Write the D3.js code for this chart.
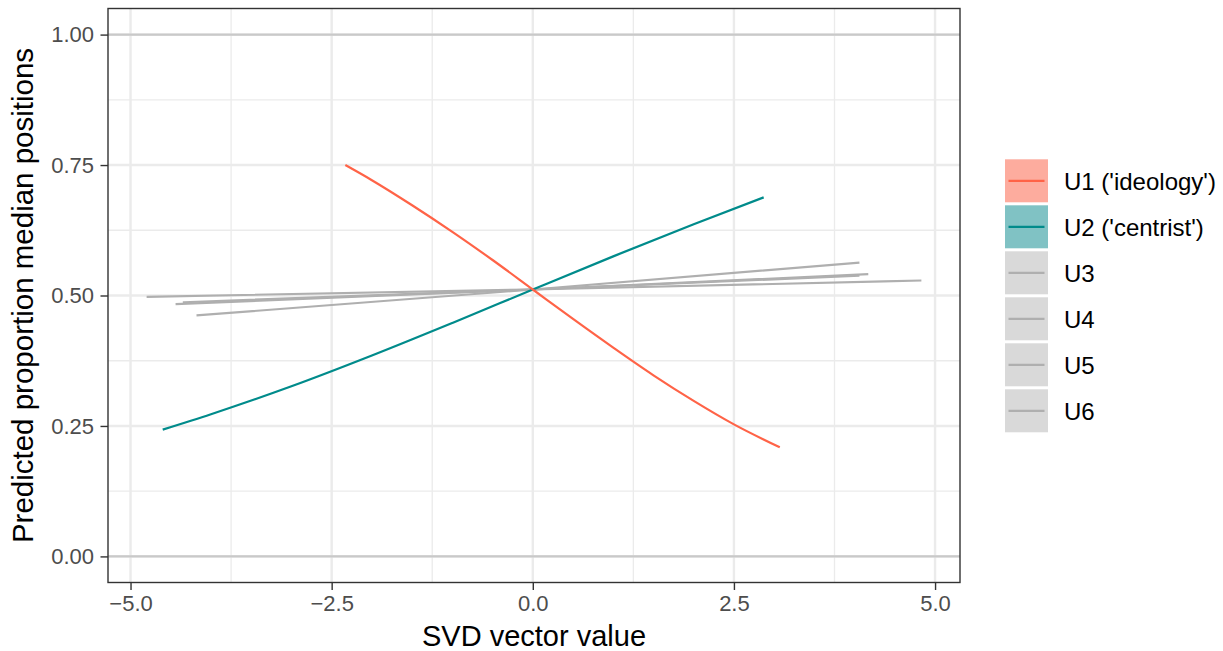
<!DOCTYPE html>
<html>
<head>
<meta charset="utf-8">
<script src="https://cdn.jsdelivr.net/npm/d3@7"></script>
<style>
  html, body { margin: 0; padding: 0; background: #ffffff; }
  svg { display: block; font-family: "Liberation Sans", Arial, Helvetica, sans-serif; }
</style>
</head>
<body>
<svg id="chart" width="1223" height="651"></svg>
<script>
// Predicted proportion of median positions along each SVD vector
const seriesNames = ["U1 ('ideology')", "U2 ('centrist')", "U3", "U4", "U5", "U6"];

// [vector value, predicted proportion]
const u1 = [[-2.33, 0.750], [-2.0, 0.721], [-1.5, 0.673], [-1.0, 0.622], [-0.5, 0.568],
            [0.0, 0.5115], [0.5, 0.455], [1.0, 0.400], [1.5, 0.347], [2.0, 0.298],
            [2.5, 0.253], [3.07, 0.209]];
const u2 = [[-4.60, 0.243], [-4.0, 0.2725], [-3.0, 0.326], [-2.0, 0.385], [-1.0, 0.4474],
            [0.0, 0.5115], [1.0, 0.575], [2.0, 0.6365], [2.87, 0.688]];
const u3 = [[-4.80, 0.4975], [0.0, 0.5115], [4.83, 0.5287]];
const u4 = [[-4.44, 0.4836], [0.0, 0.5115], [4.17, 0.541]];
const u5 = [[-4.35, 0.487], [0.0, 0.5115], [4.06, 0.538]];
const u6 = [[-4.18, 0.4618], [0.0, 0.5115], [4.06, 0.563]];

const xTicks = [-5, -2.5, 0, 2.5, 5];
const xMinor = [-3.75, -1.25, 1.25, 3.75];
const yTicks = [0, 0.25, 0.5, 0.75, 1];
const yMinor = [0.125, 0.375, 0.625, 0.875];
const refLines = [0, 1];

const lineColors = ["#FF6347", "#008B8B", "#AFAFAF", "#AFAFAF", "#AFAFAF", "#AFAFAF"];
const keyFills = ["#FDAC9E", "#80C2C4", "#D9D9D9", "#D9D9D9", "#D9D9D9", "#D9D9D9"];

const series = [u1, u2, u3, u4, u5, u6].map((pts, i) => ({
  name: seriesNames[i], points: pts, color: lineColors[i], fill: keyFills[i]
}));

const svg = d3.select("#chart");
const panel = { left: 108, right: 960, top: 8.5, bottom: 582.5 };

const x = d3.scaleLinear().domain([-5.28, 5.31]).range([panel.left, panel.right]);
const y = d3.scaleLinear().domain([-0.05, 1.05]).range([panel.bottom, panel.top]);

// panel background
svg.append("rect")
  .attr("x", panel.left).attr("y", panel.top)
  .attr("width", panel.right - panel.left).attr("height", panel.bottom - panel.top)
  .attr("fill", "#ffffff");

const grid = svg.append("g");
// minor grid
grid.selectAll(".vminor").data(xMinor).join("line")
  .attr("x1", d => x(d)).attr("x2", d => x(d))
  .attr("y1", panel.top).attr("y2", panel.bottom)
  .attr("stroke", "#EBEBEB").attr("stroke-width", 1.3);
grid.selectAll(".hminor").data(yMinor).join("line")
  .attr("y1", d => y(d)).attr("y2", d => y(d))
  .attr("x1", panel.left).attr("x2", panel.right)
  .attr("stroke", "#EBEBEB").attr("stroke-width", 1.3);
// major grid
grid.selectAll(".vmajor").data(xTicks).join("line")
  .attr("x1", d => x(d)).attr("x2", d => x(d))
  .attr("y1", panel.top).attr("y2", panel.bottom)
  .attr("stroke", "#EBEBEB").attr("stroke-width", 2.4);
grid.selectAll(".hmajor").data(yTicks).join("line")
  .attr("y1", d => y(d)).attr("y2", d => y(d))
  .attr("x1", panel.left).attr("x2", panel.right)
  .attr("stroke", "#EBEBEB").attr("stroke-width", 2.4);

// reference lines at 0 and 1
svg.append("g").selectAll("line").data(refLines).join("line")
  .attr("y1", d => y(d)).attr("y2", d => y(d))
  .attr("x1", panel.left).attr("x2", panel.right)
  .attr("stroke", "#C9C9C9").attr("stroke-width", 2.4);

// curves
const line = d3.line().x(d => x(d[0])).y(d => y(d[1])).curve(d3.curveMonotoneX);
const drawOrder = [2, 3, 4, 5, 1, 0];
svg.append("g").selectAll("path").data(drawOrder.map(i => series[i])).join("path")
  .attr("d", d => line(d.points))
  .attr("fill", "none")
  .attr("stroke", d => d.color)
  .attr("stroke-width", 2.2)
  .attr("stroke-linecap", "butt");

// panel border
svg.append("rect")
  .attr("x", panel.left).attr("y", panel.top)
  .attr("width", panel.right - panel.left).attr("height", panel.bottom - panel.top)
  .attr("fill", "none").attr("stroke", "#333333").attr("stroke-width", 1.4);

// axes
const xAxis = d3.axisBottom(x).tickValues(xTicks).tickFormat(d3.format(".1f"))
  .tickSize(7.5).tickPadding(5);
const gx = svg.append("g").attr("transform", `translate(0,${panel.bottom})`).call(xAxis);
gx.select(".domain").remove();
gx.selectAll(".tick line").attr("stroke", "#333333").attr("stroke-width", 1.4);
gx.selectAll(".tick text").attr("fill", "#4D4D4D").attr("font-size", 22)
  .attr("font-family", "Liberation Sans, Arial, sans-serif");

const yAxis = d3.axisLeft(y).tickValues(yTicks).tickFormat(d3.format(".2f"))
  .tickSize(7.5).tickPadding(6.5);
const gy = svg.append("g").attr("transform", `translate(${panel.left},0)`).call(yAxis);
gy.select(".domain").remove();
gy.selectAll(".tick line").attr("stroke", "#333333").attr("stroke-width", 1.4);
gy.selectAll(".tick text").attr("fill", "#4D4D4D").attr("font-size", 22)
  .attr("font-family", "Liberation Sans, Arial, sans-serif");

// axis titles
svg.append("text")
  .attr("x", (panel.left + panel.right) / 2).attr("y", 646)
  .attr("text-anchor", "middle").attr("font-size", 29).attr("fill", "#000000")
  .text("SVD vector value");

svg.append("text")
  .attr("transform", `translate(33,${(panel.top + panel.bottom) / 2}) rotate(-90)`)
  .attr("text-anchor", "middle").attr("font-size", 29.5).attr("fill", "#000000")
  .text("Predicted proportion median positions");

// legend
const legend = svg.append("g").attr("transform", "translate(1005,159.3)");
const keyW = 43, keyH = 43, keyStep = 46;
const items = legend.selectAll("g").data(series).join("g")
  .attr("transform", (d, i) => `translate(0,${i * keyStep})`);
items.append("rect")
  .attr("width", keyW).attr("height", keyH)
  .attr("fill", d => d.fill);
items.append("line")
  .attr("x1", 3.5).attr("x2", keyW - 3.5)
  .attr("y1", keyH / 2).attr("y2", keyH / 2)
  .attr("stroke", d => d.color).attr("stroke-width", 2.2);
items.append("text")
  .attr("x", 59).attr("y", keyH / 2 + 9)
  .attr("font-size", 24).attr("fill", "#000000")
  .text(d => d.name);
</script>
</body>
</html>
